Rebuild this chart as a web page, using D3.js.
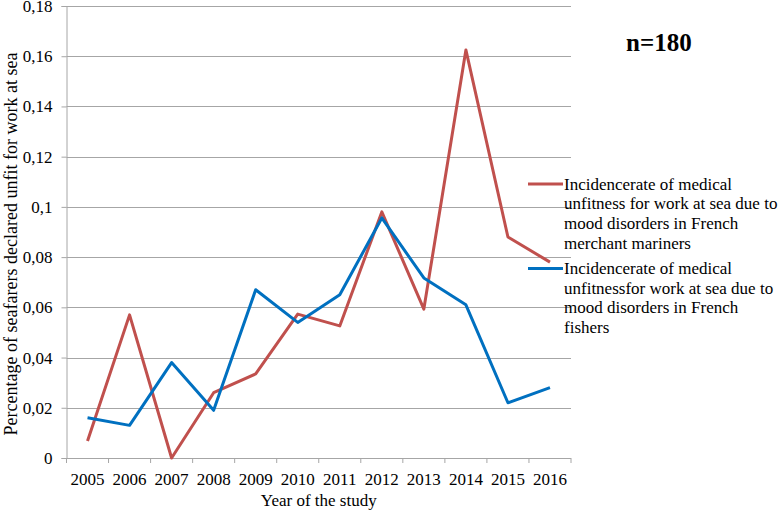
<!DOCTYPE html>
<html>
<head>
<meta charset="UTF-8">
<script src="https://cdnjs.cloudflare.com/ajax/libs/d3/7.8.5/d3.min.js"></script>
<style>
  .chart text { font-family: "Liberation Serif", serif; }
</style>
</head>
<body style="margin:0">
<script>
/* data */
var years = ["2005", "2006", "2007", "2008", "2009", "2010", "2011", "2012", "2013", "2014", "2015", "2016"];
var merchant = [0.0068, 0.057, 0.0, 0.026, 0.0335, 0.0573, 0.0526, 0.098, 0.0593, 0.1625, 0.088, 0.078];
var fishers = [0.016, 0.013, 0.038, 0.019, 0.067, 0.054, 0.065, 0.0956, 0.0717, 0.061, 0.022, 0.028];
var yTicks = [0, 0.02, 0.04, 0.06, 0.08, 0.1, 0.12, 0.14, 0.16, 0.18];

var merchantLabel = ["Incidencerate of medical", "unfitness for work at sea due to", "mood disorders in French", "merchant mariners"];
var fishersLabel = ["Incidencerate of medical", "unfitnessfor work at sea due to", "mood disorders in French", "fishers"];

/* size of the plot area */
var w = 778, h = 513;
var plotLeft = 66.5, plotRight = 571, plotTop = 6, plotBottom = 458;
var gridColor = "#a6a6a6";
var serif = "Liberation Serif";
var fontSize = "17px";

var svg = d3.select("body").append("svg")
  .attr("class", "chart")
  .attr("width", w).attr("height", h);

var x = d3.scaleBand().domain(years).range([plotLeft, plotRight]);
var y = d3.scaleLinear().domain([0, 0.18]).range([plotBottom, plotTop]);

/* gridlines */
svg.append("g").selectAll("line")
  .data(yTicks.slice(1))
  .enter().append("line")
  .attr("x1", plotLeft).attr("x2", plotRight)
  .attr("y1", function(d) { return Math.round(y(d)) + 0.5; })
  .attr("y2", function(d) { return Math.round(y(d)) + 0.5; })
  .attr("stroke", gridColor).attr("stroke-width", 1);

/* y axis */
var yAxis = svg.append("g")
  .attr("transform", "translate(" + plotLeft + ",0)")
  .call(d3.axisLeft(y).tickValues(yTicks).tickSize(5).tickPadding(9)
    .tickFormat(function(d) { return d === 0 ? "0" : String(d).replace(".", ","); }));
yAxis.attr("font-family", null).attr("font-size", null);
yAxis.selectAll("path, line").attr("stroke", gridColor);
yAxis.selectAll("text").attr("font-family", serif).attr("font-size", fontSize).attr("fill", "#000");

/* x axis, tick marks sit between the categories */
var xAxis = svg.append("g")
  .attr("transform", "translate(0," + plotBottom + ")")
  .call(d3.axisBottom(x).tickSize(0).tickPadding(15));
xAxis.attr("font-family", null).attr("font-size", null);
xAxis.select("path").attr("d", "M" + plotLeft + ",0.5H" + plotRight).attr("stroke", gridColor);
xAxis.selectAll("text").attr("font-family", serif).attr("font-size", fontSize).attr("fill", "#000");
svg.append("g").selectAll("line")
  .data(years.concat(["end"]))
  .enter().append("line")
  .attr("x1", function(d, i) { return plotLeft + i * x.bandwidth(); })
  .attr("x2", function(d, i) { return plotLeft + i * x.bandwidth(); })
  .attr("y1", plotBottom).attr("y2", plotBottom + 5)
  .attr("stroke", gridColor);

/* series */
var line = d3.line()
  .x(function(d, i) { return x(years[i]) + x.bandwidth() / 2; })
  .y(function(d) { return y(d); });

svg.append("path").datum(merchant)
  .attr("d", line).attr("fill", "none")
  .attr("stroke", "#c0504d").attr("stroke-width", 3).attr("stroke-linejoin", "round");
svg.append("path").datum(fishers)
  .attr("d", line).attr("fill", "none")
  .attr("stroke", "#0070c0").attr("stroke-width", 3).attr("stroke-linejoin", "round");

/* axis titles */
svg.append("text")
  .attr("transform", "translate(17,244) rotate(-90)")
  .attr("text-anchor", "middle").attr("font-size", "18px").attr("font-family", serif)
  .text("Percentage of seafarers declared unfit for work at sea");
svg.append("text")
  .attr("x", (plotLeft + plotRight) / 2).attr("y", 506)
  .attr("text-anchor", "middle").attr("font-size", fontSize).attr("font-family", serif)
  .text("Year of the study");

/* n label */
svg.append("text")
  .attr("x", 626).attr("y", 51)
  .attr("font-size", "25px").attr("font-weight", "bold").attr("font-family", serif)
  .text("n=180");

/* legend */
function legend(lines, color, y0) {
  svg.append("line")
    .attr("x1", 528).attr("x2", 563)
    .attr("y1", y0).attr("y2", y0)
    .attr("stroke", color).attr("stroke-width", 3);
  svg.append("g").selectAll("text")
    .data(lines)
    .enter().append("text")
    .attr("x", 564)
    .attr("y", function(d, i) { return y0 + 5.5 + i * 19.7; })
    .attr("font-size", fontSize).attr("font-family", serif)
    .text(function(d) { return d; });
}
legend(merchantLabel, "#c0504d", 184);
legend(fishersLabel, "#0070c0", 268.5);
</script>
</body>
</html>
